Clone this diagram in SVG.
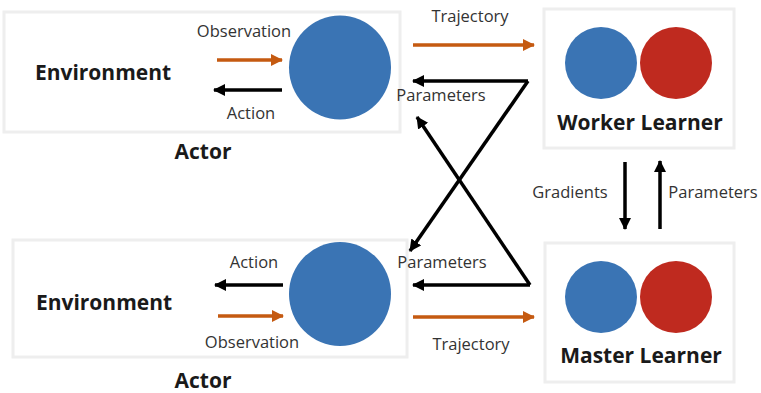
<svg xmlns="http://www.w3.org/2000/svg" width="761" height="393" viewBox="0 0 761 393">
  <style>
    .box { fill: #ffffff; stroke: #eeeeee; stroke-width: 3; }
    .blue { fill: #3a74b4; }
    .red { fill: #bf2a1f; }
    .title { font-family: "Open Sans", "Liberation Sans", sans-serif; font-weight: bold; font-size: 21px; fill: #1a1a1a; }
    .label { font-family: "Open Sans", "Liberation Sans", sans-serif; font-size: 16.5px; fill: #333333; }
    .flow-black { stroke: #000000; stroke-width: 3.5; fill: none; marker-end: url(#headBlack); }
    .flow-orange { stroke: #c55a11; stroke-width: 3.5; fill: none; marker-end: url(#headOrange); }
  </style>
  <defs>
    <marker id="headBlack" markerUnits="userSpaceOnUse" markerWidth="14" markerHeight="14" refX="11" refY="6" orient="auto">
      <path d="M0,0 L12,6 L0,12 Z" fill="#000000"/>
    </marker>
    <marker id="headOrange" markerUnits="userSpaceOnUse" markerWidth="14" markerHeight="14" refX="11" refY="6" orient="auto">
      <path d="M0,0 L12,6 L0,12 Z" fill="#c55a11"/>
    </marker>
  </defs>
  <rect width="761" height="393" fill="#ffffff"/>

  <!-- Top actor -->
  <g id="actor-top">
    <rect class="box" x="4" y="12" width="396" height="120"/>
    <text class="title" x="103" y="80" text-anchor="middle">Environment</text>
    <ellipse class="blue" cx="340" cy="67.5" rx="51" ry="52"/>
    <text class="label" x="244" y="37" text-anchor="middle">Observation</text>
    <text class="label" x="251" y="119" text-anchor="middle">Action</text>
    <text class="title" x="203" y="159" text-anchor="middle">Actor</text>
  </g>

  <!-- Bottom actor -->
  <g id="actor-bottom">
    <rect class="box" x="13" y="240" width="394" height="117"/>
    <text class="title" x="104" y="310" text-anchor="middle">Environment</text>
    <ellipse class="blue" cx="340" cy="294" rx="51" ry="52"/>
    <text class="label" x="254" y="268" text-anchor="middle">Action</text>
    <text class="label" x="252" y="348" text-anchor="middle">Observation</text>
    <text class="title" x="203" y="388" text-anchor="middle">Actor</text>
  </g>

  <!-- Worker learner -->
  <g id="worker-learner">
    <rect class="box" x="544" y="9" width="190" height="139"/>
    <circle class="blue" cx="601" cy="63" r="36"/>
    <circle class="red" cx="676" cy="63" r="36"/>
    <text class="title" x="640" y="130" text-anchor="middle">Worker Learner</text>
  </g>

  <!-- Master learner -->
  <g id="master-learner">
    <rect class="box" x="545" y="243" width="189" height="139"/>
    <circle class="blue" cx="601" cy="297" r="36"/>
    <circle class="red" cx="676" cy="297" r="36"/>
    <text class="title" x="641" y="363" text-anchor="middle">Master Learner</text>
  </g>

  <!-- Connectors -->
  <g id="connectors">
    <!-- environment / actor loops -->
    <line class="flow-orange" x1="217" y1="60" x2="282" y2="60"/>
    <line class="flow-black" x1="282" y1="90" x2="214" y2="90"/>
    <line class="flow-black" x1="283" y1="285" x2="215" y2="285"/>
    <line class="flow-orange" x1="218" y1="316" x2="283" y2="316"/>

    <!-- trajectories to learners -->
    <line class="flow-orange" x1="413" y1="45" x2="534" y2="45"/>
    <line class="flow-orange" x1="413" y1="317" x2="534" y2="317"/>

    <!-- parameter broadcasts from both learners -->
    <line class="flow-black" x1="528" y1="81" x2="413" y2="81"/>
    <line class="flow-black" x1="528" y1="81" x2="410" y2="251"/>
    <line class="flow-black" x1="530" y1="285" x2="413" y2="285"/>
    <line class="flow-black" x1="530" y1="285" x2="417" y2="117"/>
    <text class="label" x="441" y="101" text-anchor="middle">Parameters</text>
    <text class="label" x="442" y="268" text-anchor="middle">Parameters</text>
    <text class="label" x="470" y="22" text-anchor="middle">Trajectory</text>
    <text class="label" x="471" y="350" text-anchor="middle">Trajectory</text>

    <!-- worker / master exchange -->
    <line class="flow-black" x1="625" y1="162" x2="625" y2="229"/>
    <line class="flow-black" x1="660" y1="229" x2="660" y2="161"/>
    <text class="label" x="570" y="198" text-anchor="middle">Gradients</text>
    <text class="label" x="713" y="198" text-anchor="middle">Parameters</text>
  </g>
</svg>
